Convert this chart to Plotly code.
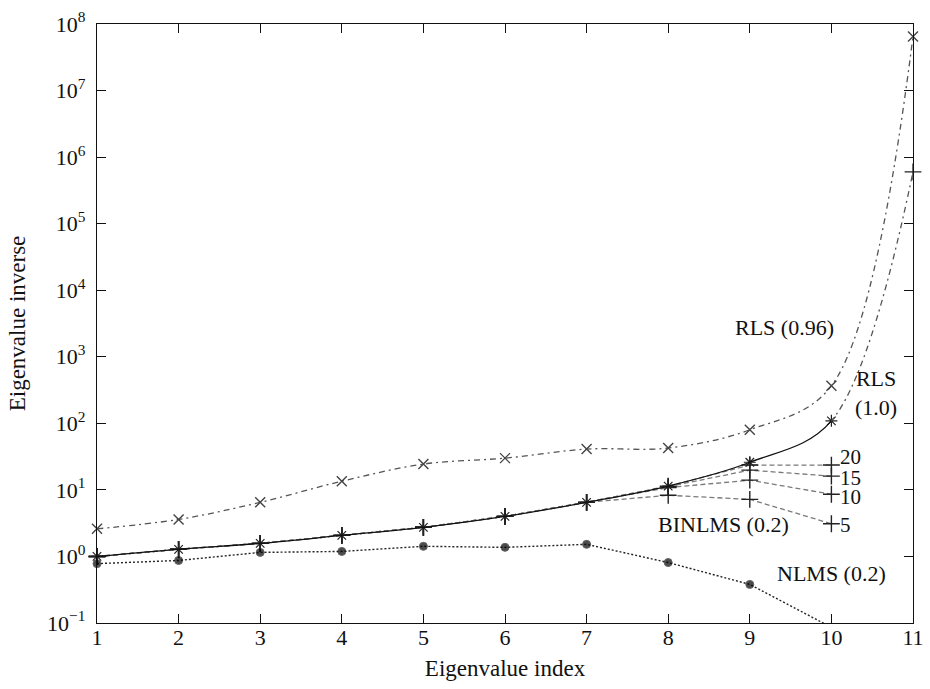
import math
import plotly.graph_objects as go

# Eigenvalue index (x axis)
idx = [1, 2, 3, 4, 5, 6, 7, 8, 9, 10, 11]

# Inverse eigenvalues per algorithm
rls_096 = [2.6, 3.6, 6.5, 13.5, 24.4, 30.0, 41.0, 42.6, 80.0, 366.0, 6.5e7]
rls_100 = [1.0, 1.28, 1.57, 2.07, 2.74, 4.0, 6.5, 11.4, 26.0, 109.0, 6.0e5]
nlms_02 = [0.78, 0.87, 1.15, 1.19, 1.42, 1.37, 1.52, 0.81, 0.38, 0.086]

# BINLMS (0.2) for several block sizes, indices 1..10
binlms_idx = [1, 2, 3, 4, 5, 6, 7, 8, 9, 10]
binlms_5 = [1.0, 1.28, 1.57, 2.07, 2.74, 4.0, 6.5, 8.3, 7.2, 3.1]
binlms_10 = [1.0, 1.28, 1.57, 2.07, 2.74, 4.0, 6.5, 10.8, 14.0, 8.6]
binlms_15 = [1.0, 1.28, 1.57, 2.07, 2.74, 4.0, 6.5, 11.2, 19.8, 16.1]
binlms_20 = [1.0, 1.28, 1.57, 2.07, 2.74, 4.0, 6.5, 11.4, 23.6, 23.6]
binlms_sizes = ["5", "10", "15", "20"]

# Y axis decades
y_exponents = [-1, 0, 1, 2, 3, 4, 5, 6, 7, 8]
y_tickvals = [10.0 ** e for e in y_exponents]
y_ticktext = ["10<sup>%s</sup>" % str(e).replace("-", "\u2212") for e in y_exponents]

FONT = "Liberation Serif"
INK = "#111111"
MARK = "#222222"

fig = go.Figure()

# BINLMS curves
binlms_series = [binlms_5, binlms_10, binlms_15, binlms_20]
for k, vals in zip(binlms_sizes, binlms_series):
    fig.add_trace(go.Scatter(
        x=binlms_idx, y=vals, mode="lines+markers", name="BINLMS " + k,
        line=dict(color="#7a7a7a", width=1.3, dash="5px,3px"),
        marker=dict(symbol="cross-thin-open", size=12, color=MARK,
                    line=dict(color=MARK, width=1.4)),
        cliponaxis=False, showlegend=False))

# RLS (0.96)
fig.add_trace(go.Scatter(
    x=idx, y=rls_096, mode="lines+markers", name="RLS (0.96)",
    line=dict(color="#555555", width=1.3, dash="6px,4px,2px,4px",
              shape="spline", smoothing=1.0),
    marker=dict(symbol="x-thin-open", size=10, color="#444444",
                line=dict(color="#444444", width=1.4)),
    cliponaxis=False, showlegend=False))

# RLS (1.0): solid up to index 10, dash-dot beyond; the same spline is
# drawn on two sub-axes so each part is clipped at index 10.
split = (idx[-2] - idx[0]) / (idx[-1] - idx[0])
fig.add_trace(go.Scatter(
    x=idx, y=rls_100, mode="lines", xaxis="x2", yaxis="y",
    line=dict(color="#111111", width=1.3, shape="spline", smoothing=1.0),
    showlegend=False))
fig.add_trace(go.Scatter(
    x=idx, y=rls_100, mode="lines", xaxis="x3", yaxis="y",
    line=dict(color="#555555", width=1.3, dash="6px,4px,2px,4px",
              shape="spline", smoothing=1.0),
    showlegend=False))
fig.add_trace(go.Scatter(
    x=idx[:-1], y=rls_100[:-1], mode="markers",
    marker=dict(symbol="asterisk-open", size=10, color=MARK,
                line=dict(color=MARK, width=1.2)),
    cliponaxis=False, showlegend=False))
fig.add_trace(go.Scatter(
    x=idx[-1:], y=rls_100[-1:], mode="markers",
    marker=dict(symbol="cross-thin-open", size=12, color=MARK,
                line=dict(color=MARK, width=1.3)),
    cliponaxis=False, showlegend=False))

# NLMS (0.2)
y_floor = y_tickvals[0]
fig.add_trace(go.Scatter(
    x=idx[:len(nlms_02)], y=nlms_02, mode="lines+markers", name="NLMS (0.2)",
    line=dict(color="#222222", width=1.4, dash="2px,2px"),
    marker=dict(symbol="circle", color="#000000",
                size=[8 if v >= y_floor else 0 for v in nlms_02]),
    cliponaxis=False, showlegend=False))

# Curve labels (log axis: annotation y is given as a decade exponent)
label_font = dict(family=FONT, size=22, color=INK)
annotations = [
    dict(x=9.42, y=2750, text="RLS (0.96)"),
    dict(x=10.55, y=290, text="RLS<br>(1.0)"),
    dict(x=8.68, y=3.04, text="BINLMS (0.2)"),
    dict(x=10.0, y=0.554, text="NLMS (0.2)"),
]
for a in annotations:
    fig.add_annotation(x=a["x"], y=math.log10(a["y"]), text=a["text"],
                       showarrow=False, xref="x", yref="y",
                       font=label_font, align="center")

# Block-size tags next to the final BINLMS points
tag_font = dict(family=FONT, size=21, color=INK)
tag_shift = {"20": 8, "15": -2, "10": -3, "5": -1}
for k, vals in zip(binlms_sizes, binlms_series):
    fig.add_annotation(x=binlms_idx[-1], y=math.log10(vals[-1]), text=k,
                       showarrow=False, xref="x", yref="y",
                       xanchor="left", xshift=8, yshift=tag_shift[k],
                       font=tag_font, borderpad=0)

axis_common = dict(
    showline=True, linecolor="#111111", linewidth=1.4, mirror="ticks",
    ticks="inside", ticklen=9, tickwidth=1.3, tickcolor="#111111",
    showgrid=False, zeroline=False, automargin=False,
    tickfont=dict(family=FONT, size=22, color=INK),
)

fig.update_layout(
    width=930, height=689,
    margin=dict(l=97, r=17, t=24, b=66, autoexpand=False),
    paper_bgcolor="white", plot_bgcolor="rgba(0,0,0,0)",
    font=dict(family=FONT, color=INK),
    xaxis=dict(range=[idx[0], idx[-1]], tickvals=idx, anchor="y",
               title=dict(text="Eigenvalue index",
                          font=dict(family=FONT, size=23, color=INK),
                          standoff=11),
               ticklabelstandoff=-6, **axis_common),
    xaxis2=dict(domain=[0, split], range=[idx[0], idx[-2]],
                anchor="y", visible=False),
    xaxis3=dict(domain=[split, 1], range=[idx[-2], idx[-1]],
                anchor="y", visible=False),
    yaxis=dict(type="log", range=[y_exponents[0], y_exponents[-1]],
               tickvals=y_tickvals, ticktext=y_ticktext, anchor="x",
               title=dict(text="Eigenvalue inverse",
                          font=dict(family=FONT, size=23, color=INK),
                          standoff=14),
               ticklabelstandoff=6, **axis_common),
)

fig.write_html("out.html")
